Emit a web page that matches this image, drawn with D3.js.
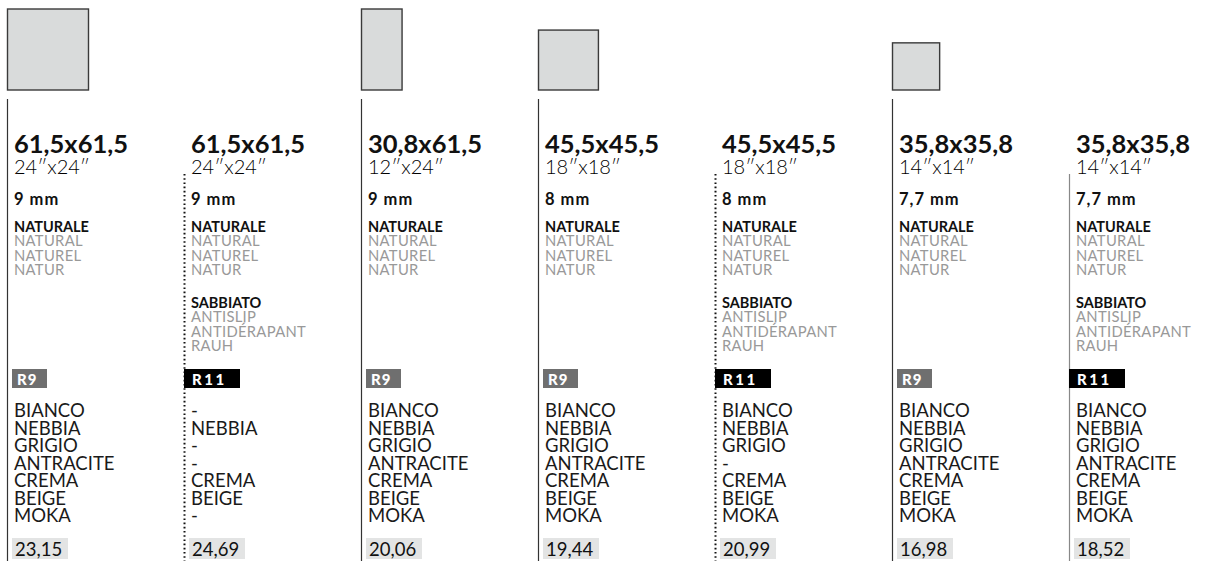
<!DOCTYPE html>
<html>
<head>
<meta charset="utf-8">
<script src="https://cdn.jsdelivr.net/npm/d3@7"></script>
<style>
  body { margin: 0; background: #fff; }
  svg { display: block; font-family: Lato, 'Noto Sans', sans-serif; }
</style>
</head>
<body>
<svg id="chart" width="1206" height="561"></svg>
<script>
// one entry per column
const sizes = ['61,5x61,5', '61,5x61,5', '30,8x61,5', '45,5x45,5', '45,5x45,5', '35,8x35,8', '35,8x35,8']
const inches = ['24″x24″', '24″x24″', '12″x24″', '18″x18″', '18″x18″', '14″x14″', '14″x14″']
const thickness = ['9 mm', '9 mm', '9 mm', '8 mm', '8 mm', '7,7 mm', '7,7 mm']
const tileW = [61.5, null, 30.8, 45.5, null, 35.8, null]
const tileH = [61.5, null, 61.5, 45.5, null, 35.8, null]
const sabbiato = [false, true, false, false, true, false, true]
const ratings = ['R9', 'R11', 'R9', 'R9', 'R11', 'R9', 'R11']
const prices = ['23,15', '24,69', '20,06', '19,44', '20,99', '16,98', '18,52']
const lineType = ['solid', 'dotted', 'solid', 'solid', 'dotted', 'solid', 'light']

const colours = ['BIANCO', 'NEBBIA', 'GRIGIO', 'ANTRACITE', 'CREMA', 'BEIGE', 'MOKA']
const available = [
  [1, 1, 1, 1, 1, 1, 1],
  [0, 1, 0, 0, 1, 1, 0],
  [1, 1, 1, 1, 1, 1, 1],
  [1, 1, 1, 1, 1, 1, 1],
  [1, 1, 1, 0, 1, 1, 1],
  [1, 1, 1, 1, 1, 1, 1],
  [1, 1, 1, 1, 1, 1, 1]
]
const naturale = ['NATURALE', 'NATURAL', 'NATUREL', 'NATUR']
const sabbiatoLbl = ['SABBIATO', 'ANTISLIP', 'ANTIDÉRAPANT', 'RAUH']

const svg = d3.select('#chart')
const cols = d3.range(sizes.length)

const x = d3.scaleLinear().domain([0, 1]).range([7, 184])
const cm = d3.scaleLinear().domain([0, 61.5]).range([0, 81])
const tileBottom = 90
const pad = 7

const g = svg.selectAll('g.col').data(cols)
  .enter().append('g')
    .attr('class', 'col')
    .attr('transform', i => `translate(${ x(i) },0)`)

// tiles
g.filter(i => tileW[i] != null).append('rect')
  .attr('x', 0.5)
  .attr('y', i => tileBottom - cm(tileH[i]))
  .attr('width', i => cm(tileW[i]))
  .attr('height', i => cm(tileH[i]))
  .attr('fill', '#d9dbdb')
  .attr('stroke', '#3a3a3a')
  .attr('stroke-width', 1.4)

// divider lines
g.append('line')
  .attr('x1', 0.5).attr('x2', 0.5)
  .attr('y1', i => lineType[i] == 'solid' ? 99 : 174)
  .attr('y2', 561)
  .attr('stroke', i => lineType[i] == 'light' ? '#888' : (lineType[i] == 'dotted' ? '#111' : '#333'))
  .attr('stroke-width', i => lineType[i] == 'dotted' ? 2 : 1.2)
  .attr('stroke-dasharray', i => lineType[i] == 'dotted' ? '1.6,2.6' : null)

g.append('text')
  .attr('x', pad).attr('y', 153)
  .attr('font-size', 25.5).attr('font-weight', 700).attr('fill', '#111')
  .text(i => sizes[i])

g.append('text')
  .attr('x', pad).attr('y', 174)
  .attr('font-size', 20).attr('font-weight', 300).attr('fill', '#000')
  .text(i => inches[i])

g.append('text')
  .attr('x', pad).attr('y', 205)
  .attr('font-size', 16.5).attr('font-weight', 700).attr('fill', '#111')
  .attr('letter-spacing', 1)
  .text(i => thickness[i])

function finishBlock(sel, labels, top) {
  sel.selectAll('text.fin-' + top).data(labels)
    .enter().append('text')
      .attr('class', 'fin-' + top)
      .attr('x', pad)
      .attr('y', (d, k) => top + k * 14.3)
      .attr('font-size', (d, k) => k == 0 ? 14.5 : 14.8)
      .attr('font-weight', (d, k) => k == 0 ? 700 : 400)
      .attr('letter-spacing', (d, k) => k == 0 ? 0 : 0.3)
      .attr('fill', (d, k) => k == 0 ? '#111' : '#999')
      .text(d => d)
}
finishBlock(g, naturale, 232)
finishBlock(g.filter(i => sabbiato[i]), sabbiatoLbl, 308)

// slip rating badge
const badge = g.append('g')
  .attr('transform', i => `translate(${ ratings[i] == 'R9' ? 5 : 0 },369)`)
badge.append('rect')
  .attr('width', i => ratings[i] == 'R9' ? 35 : 56)
  .attr('height', 19)
  .attr('fill', i => ratings[i] == 'R9' ? '#6f6f6f' : '#000')
badge.append('text')
  .attr('x', i => ratings[i] == 'R9' ? 5 : 8)
  .attr('y', 15.5)
  .attr('font-size', 15).attr('font-weight', 900).attr('fill', '#fff')
  .attr('letter-spacing', i => ratings[i] == 'R11' ? 2.5 : 1)
  .text(i => ratings[i])

// colour list
g.selectAll('text.colour').data(i => colours.map((c, k) => available[i][k] ? c : '-'))
  .enter().append('text')
    .attr('class', 'colour')
    .attr('x', pad)
    .attr('y', (d, k) => 417 + k * 17.5)
    .attr('font-size', 18.5).attr('font-weight', 400).attr('fill', '#1a1a1a')
    .text(d => d)

// price
const price = g.append('g').attr('transform', 'translate(5,538)')
price.append('rect')
  .attr('width', 56).attr('height', 21)
  .attr('fill', '#e3e4e4')
price.append('text')
  .attr('x', 3).attr('y', 18)
  .attr('font-size', 18.5).attr('fill', '#111')
  .text(i => prices[i])
</script>
</body>
</html>
